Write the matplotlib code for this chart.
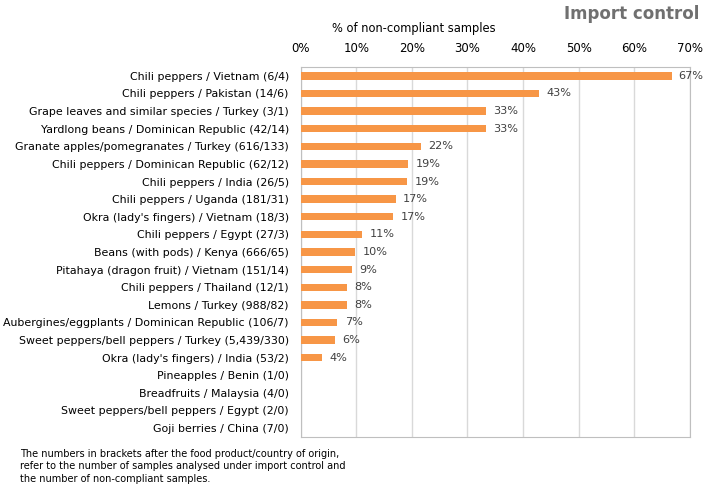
import matplotlib.pyplot as plt

labels = ["Chili peppers / Vietnam (6/4)",
          "Chili peppers / Pakistan (14/6)",
          "Grape leaves and similar species / Turkey (3/1)",
          "Yardlong beans / Dominican Republic (42/14)",
          "Granate apples/pomegranates / Turkey (616/133)",
          "Chili peppers / Dominican Republic (62/12)",
          "Chili peppers / India (26/5)",
          "Chili peppers / Uganda (181/31)",
          "Okra (lady's fingers) / Vietnam (18/3)",
          "Chili peppers / Egypt (27/3)",
          "Beans (with pods) / Kenya (666/65)",
          "Pitahaya (dragon fruit) / Vietnam (151/14)",
          "Chili peppers / Thailand (12/1)",
          "Lemons / Turkey (988/82)",
          "Aubergines/eggplants / Dominican Republic (106/7)",
          "Sweet peppers/bell peppers / Turkey (5,439/330)",
          "Okra (lady's fingers) / India (53/2)",
          "Pineapples / Benin (1/0)",
          "Breadfruits / Malaysia (4/0)",
          "Sweet peppers/bell peppers / Egypt (2/0)",
          "Goji berries / China (7/0)"]
values = [66.7, 42.9, 33.3, 33.3, 21.6, 19.4, 19.2, 17.1, 16.7, 11.1, 9.8,
          9.3, 8.3, 8.3, 6.6, 6.1, 3.8, 0, 0, 0, 0]

txt = "#404040"
fig = plt.figure(figsize=(7.09, 4.86), dpi=100)
ax = fig.add_axes([0.424, 0.101, 0.549, 0.761])

y = range(len(labels))
ax.barh(y, values, height=0.42, color="#F79646", zorder=3)
for i, v in enumerate(values):
    if v > 0:
        ax.text(v + 1.3, i, "%d%%" % round(v), va="center", ha="left",
                fontsize=8.1, color=txt)

ax.set_ylim(len(labels) - 0.5, -0.5)
ax.set_xlim(0, 70)
ax.set_yticks(list(y))
ax.set_yticklabels(labels, fontsize=7.9, color="black")
ax.set_xticks(range(0, 71, 10))
ax.set_xticklabels(["%d%%" % t for t in range(0, 71, 10)], fontsize=8.5, color="black")
ax.xaxis.tick_top()
ax.tick_params(axis="y", length=0, pad=8.5)
ax.tick_params(axis="x", length=0, pad=9)
ax.grid(axis="x", color="#D9D9D9", linewidth=1, zorder=0)
for s in ax.spines.values():
    s.set_color("#BFBFBF")

fig.text(0.583, 0.935, "% of non-compliant samples", ha="center", fontsize=8.3, color="black")
fig.text(0.986, 0.972, "Import control", ha="right", va="center", fontsize=12,
         fontweight="bold", color="#707070")
fig.text(0.028, 0.005,
         "The numbers in brackets after the food product/country of origin,\n"
         "refer to the number of samples analysed under import control and\n"
         "the number of non-compliant samples.",
         ha="left", va="bottom", fontsize=7, color="black", linespacing=1.3)

fig.savefig("out.png")
